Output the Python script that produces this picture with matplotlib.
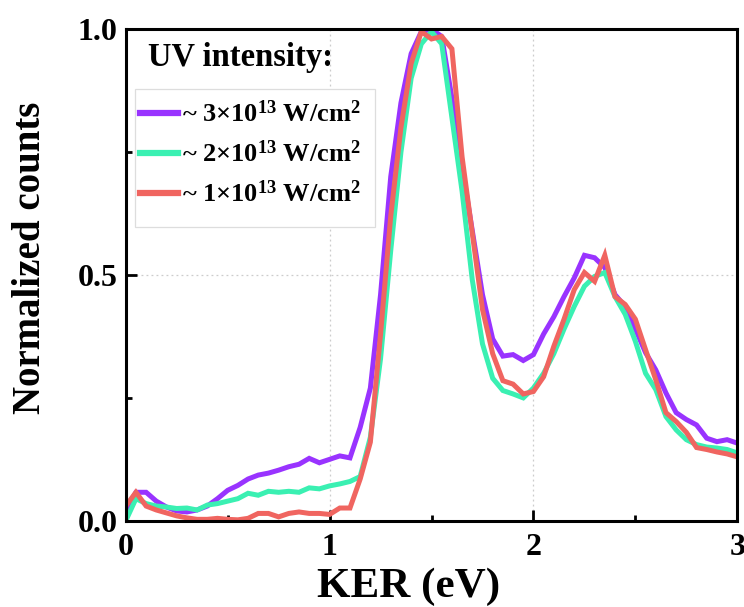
import numpy as np
import matplotlib
matplotlib.use("Agg")
import matplotlib.pyplot as plt
from matplotlib.ticker import MultipleLocator, FormatStrFormatter
from matplotlib.patches import Rectangle

plt.rcParams['font.family'] = ['Liberation Serif', 'DejaVu Serif']
plt.rcParams['font.weight'] = 'bold'
plt.rcParams['mathtext.fontset'] = 'custom'
plt.rcParams['mathtext.rm'] = 'Liberation Serif:bold'
plt.rcParams['mathtext.it'] = 'Liberation Serif:bold'
plt.rcParams['mathtext.bf'] = 'Liberation Serif:bold'
plt.rcParams['mathtext.default'] = 'rm'

ker = np.round(np.arange(0, 3.0001, 0.05), 2)

counts_3e13 = [0.02, 0.058, 0.058, 0.04, 0.028, 0.02, 0.018, 0.022, 0.03, 0.045,
               0.062, 0.072, 0.085, 0.093, 0.097, 0.103, 0.11, 0.115, 0.127, 0.118,
               0.125, 0.132, 0.128, 0.19, 0.27, 0.46, 0.70, 0.85, 0.95, 0.995,
               1.0, 0.985, 0.86, 0.72, 0.59, 0.46, 0.37, 0.335, 0.338, 0.326,
               0.338, 0.38, 0.415, 0.456, 0.494, 0.54, 0.535, 0.515, 0.46, 0.436,
               0.39, 0.342, 0.307, 0.26, 0.22, 0.206, 0.195, 0.168, 0.161, 0.165,
               0.158]

counts_2e13 = [0.0, 0.045, 0.035, 0.03, 0.028, 0.025, 0.026, 0.022, 0.032, 0.035,
               0.04, 0.045, 0.056, 0.052, 0.06, 0.058, 0.06, 0.058, 0.067, 0.065,
               0.071, 0.075, 0.08, 0.09, 0.17, 0.33, 0.55, 0.75, 0.90, 0.97,
               0.995, 0.97, 0.82, 0.67, 0.49, 0.36, 0.29, 0.265, 0.258, 0.25,
               0.27, 0.30, 0.34, 0.39, 0.436, 0.477, 0.497, 0.505, 0.456, 0.42,
               0.365, 0.30, 0.267, 0.212, 0.185, 0.165, 0.155, 0.15, 0.148, 0.145,
               0.138]

counts_1e13 = [0.03, 0.058, 0.03, 0.022, 0.016, 0.01, 0.006, 0.003, 0.003, 0.005,
               0.003, 0.002, 0.005, 0.015, 0.015, 0.008, 0.015, 0.018, 0.015, 0.015,
               0.013, 0.026, 0.026, 0.085, 0.16, 0.38, 0.62, 0.80, 0.93, 0.995,
               0.98, 0.985, 0.96, 0.74, 0.585, 0.43, 0.34, 0.285, 0.278, 0.258,
               0.263, 0.293, 0.355, 0.41, 0.47, 0.505, 0.487, 0.54, 0.456, 0.44,
               0.41, 0.348, 0.287, 0.22, 0.202, 0.18, 0.149, 0.145, 0.14, 0.136,
               0.13]

series_labels = [r"~ 3×10$^{13}$ W/cm$^{2}$",
                 r"~ 2×10$^{13}$ W/cm$^{2}$",
                 r"~ 1×10$^{13}$ W/cm$^{2}$"]
series_colors = ["#9933ff", "#3af0b2", "#f06560"]
legend_title = "UV intensity:"

fig = plt.figure(figsize=(7.44, 6.07), dpi=100)
ax = fig.add_axes([0.169, 0.142, 0.822, 0.810])

for y, lab, col in zip([counts_3e13, counts_2e13, counts_1e13], series_labels, series_colors):
    ax.plot(ker, y, color=col, lw=3.6, label=lab, solid_joinstyle='miter')

ax.set_xlim(0, 3)
ax.set_ylim(0, 1)
ax.xaxis.set_major_locator(MultipleLocator(1))
ax.xaxis.set_minor_locator(MultipleLocator(0.5))
ax.yaxis.set_major_locator(MultipleLocator(0.5))
ax.yaxis.set_minor_locator(MultipleLocator(0.25))
ax.yaxis.set_major_formatter(FormatStrFormatter('%.1f'))
ax.tick_params(which='both', direction='in', width=2, labelsize=23)
ax.tick_params(which='major', length=8)
ax.tick_params(which='minor', length=4)
ax.tick_params(axis='x', pad=9)
ax.tick_params(axis='y', pad=6)
ax.grid(True, which='major', ls=(0, (1.5, 2.5)), color='#cccccc', lw=0.9)
for s in ax.spines.values():
    s.set_linewidth(2.2)

ax.set_xlabel("KER (eV)", fontsize=31, fontweight='bold')
ax.set_ylabel("Normalized counts", fontsize=28, fontweight='bold')
ax.xaxis.set_label_coords(0.462, -0.095)
ax.yaxis.set_label_coords(-0.125, 0.535)

# legend frame
ax.add_patch(Rectangle((0.015, 0.597), 0.393, 0.281, transform=ax.transAxes,
                       facecolor='white', edgecolor='#dddddd', lw=0.9, zorder=4))
ax.text(0.036, 0.942, legend_title, transform=ax.transAxes, fontsize=23.5,
        fontweight='bold', ha='left', va='center', zorder=5)
leg = ax.legend(loc='upper left', bbox_to_anchor=(0.015, 0.866), fontsize=19,
                frameon=False, handlelength=1.45, handletextpad=0.12,
                borderpad=0.2, labelspacing=0.52, borderaxespad=0)
leg.set_zorder(6)
for l in leg.get_lines():
    l.set_linewidth(4.5)

fig.savefig("out.png", dpi=100)
